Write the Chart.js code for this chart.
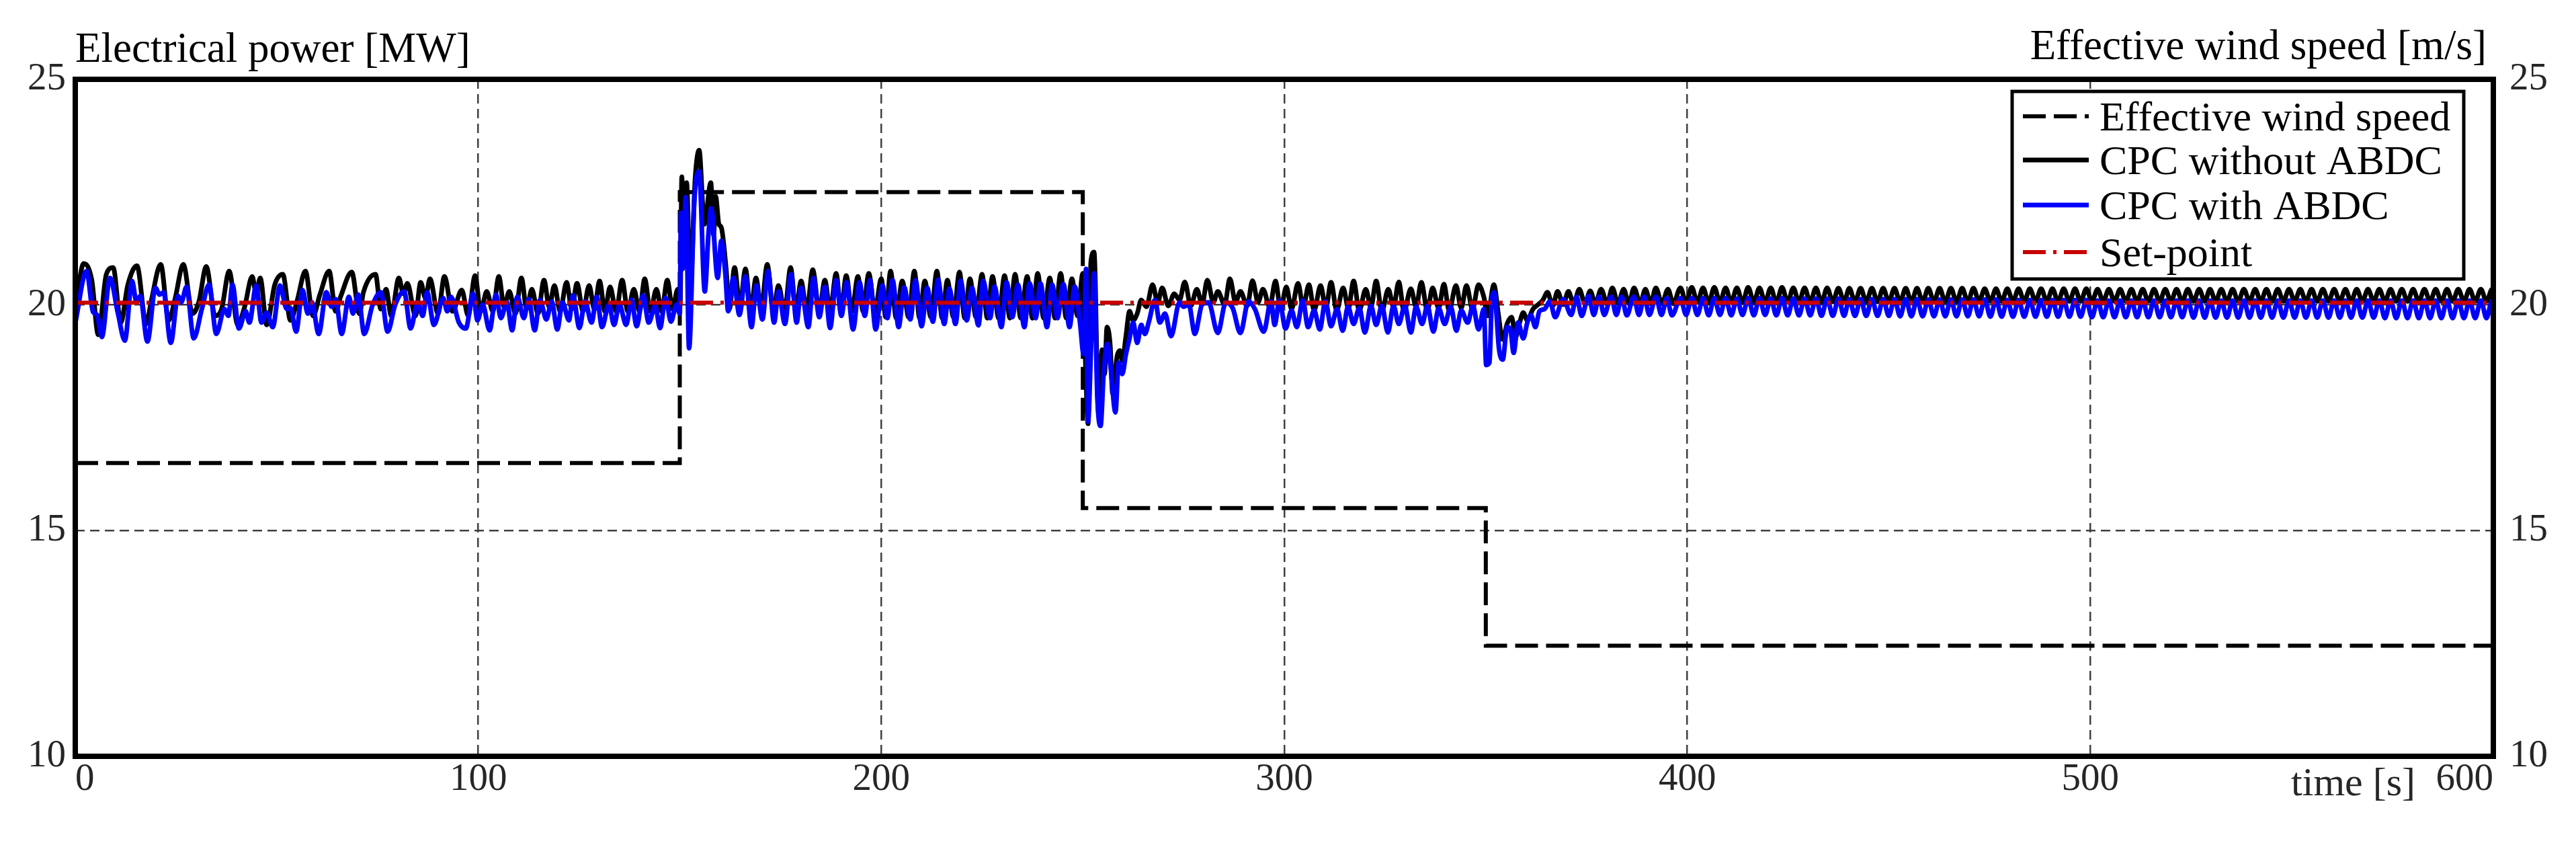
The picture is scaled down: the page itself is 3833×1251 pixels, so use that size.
<!DOCTYPE html>
<html lang="en">
<head>
<meta charset="UTF-8">
<title>CPC with and without ABDC</title>
<script src="https://cdn.jsdelivr.net/npm/chart.js"></script>
<style>
    * { margin: 0; padding: 0; }
    body { background: #ffffff; }
    .box { width: 3833px; height: 1251px; position: relative; }
</style>
</head>
<body>
<div class="box"><canvas id="grafico"></canvas></div>
<script>
// ticks
const timeTicks = [0, 100, 200, 300, 400, 500, 600];
const powerTicks = [10, 15, 20, 25];
const windTicks = [10, 15, 20, 25];

// effective wind speed, value changes at these times
const windTimes = [0, 150, 250, 350, 600];
const windSpeeds = [16.5, 22.5, 15.5, 12.45, 12.45];

// set-point
const setPointTimes = [0, 600];
const setPointValues = [20.05, 20.05];

// electrical power [time s, MW], read peak by peak
const cpcWithoutAbdc = [
    [0,19.9],[2.1,20.92],[4.1,20.55],[5.7,19.34],[7.7,20.68],[9.4,20.83],[11.3,19.61],[13.0,20.43],[15.3,20.87],[17.6,19.58],
    [18.9,20.11],[21.2,20.90],[23.2,19.66],[24.8,20.15],[26.8,20.90],[29.1,19.81],[30.7,20.08],[32.5,20.85],[34.7,19.76],[36.3,19.91],
    [38.2,20.75],[40.3,19.56],[42.0,19.95],[43.9,20.63],[44.9,20.25],[45.9,20.60],[47.5,19.56],[49.5,20.45],[51.5,20.68],[53.4,19.66],
    [55.1,20.11],[57.1,20.75],[59.0,19.76],[60.7,20.23],[63.0,20.75],[64.6,19.86],[65.9,20.20],[68.6,20.73],[70.5,19.81],[71.5,20.28],
    [74.5,20.68],[75.8,19.91],[77.1,20.35],[78.4,19.76],[80.3,20.60],[81.4,20.25],[82.4,20.48],[84.4,19.76],[85.7,20.50],[86.9,20.15],
    [88.0,20.58],[90.0,19.81],[91.6,20.63],[93.6,19.86],[95.9,20.33],[97.5,19.76],[99.2,20.65],
    [100.6,19.86],[102.1,20.30],[103.6,19.86],[105.1,20.63],[106.4,19.96],[107.7,20.30],[109.2,19.81],[110.7,20.60],[112.0,19.91],[113.3,20.35],
    [114.8,19.81],[116.3,20.55],[117.6,19.96],[118.9,20.43],[120.3,19.86],[121.9,20.50],[123.2,19.91],[124.5,20.48],[126.0,19.86],[127.5,20.43],
    [128.8,19.91],[130.1,20.53],[131.4,19.86],[132.7,20.40],[134.2,19.86],[135.7,20.55],[137.1,19.86],[138.6,20.35],[140.0,19.86],[141.3,20.58],
    [142.7,19.86],[144.2,20.35],[145.5,19.86],[146.9,20.55],[148.2,19.91],[149.5,20.35],[150.1,20.0],[150.5,22.84],[151.1,21.20],[151.7,22.71],
    [152.6,20.35],[153.8,22.79],[154.8,23.43],[156.1,21.79],[157.7,22.71],[158.4,21.55],[158.9,22.41],[159.7,21.79],[160.3,21.72],[161.5,20.80],
    [162.3,19.91],[163.6,20.83],[164.9,19.96],[166.3,20.80],[167.6,19.86],[168.9,20.60],[170.2,19.91],[171.7,20.90],[173.2,19.86],[174.5,20.43],
    [176.0,19.86],[177.5,20.83],[178.8,19.86],[180.1,20.53],[181.5,19.86],[183.0,20.78],[184.6,19.86],[186.0,20.55],[187.3,19.86],[188.8,20.70],
    [190.0,19.86],[191.3,20.65],[192.7,19.86],[194.2,20.63],[195.5,19.86],[196.9,20.70],[198.4,19.86],
    [200.0,20.58],[201.1,19.73],[202.3,20.75],[203.7,19.71],[205.2,20.53],[206.8,19.73],[208.2,20.75],[209.5,19.71],[210.8,20.53],[212.3,19.73],
    [213.8,20.75],[215.1,19.71],[216.4,20.55],[217.9,19.73],[219.4,20.73],[220.7,19.71],[222.0,20.58],[223.5,19.73],[225.0,20.68],[226.3,19.71],
    [227.6,20.63],[229.1,19.71],[230.6,20.65],[231.9,19.71],[233.2,20.68],[234.6,19.71],[236.2,20.63],[237.5,19.71],[238.8,20.70],[240.3,19.71],
    [241.8,20.60],[243.1,19.71],[244.5,20.70],[245.9,19.71],[247.3,20.58],[248.7,19.76],[250.0,20.70],[250.6,18.91],[251.3,17.37],[252.0,20.95],
    [252.8,21.17],[253.9,17.62],[254.8,19.01],[255.4,18.47],[256.0,19.51],[256.8,19.11],[257.4,18.04],[258.5,18.86],[259.2,18.99],[259.8,18.76],
    [260.7,19.31],[261.6,19.86],[262.5,19.66],[263.5,19.81],[264.5,20.11],[265.8,19.96],[267.3,20.45],[268.6,20.06],[269.7,20.38],[271.2,19.98],
    [272.7,20.25],[274.0,20.11],[275.3,20.51],[276.8,19.98],[278.3,20.35],[279.6,20.01],[280.9,20.55],[282.4,20.06],[283.5,20.30],[285.2,20.01],
    [286.5,20.58],[287.9,20.06],[289.1,20.30],[290.8,19.98],[292.1,20.54],[293.5,20.06],[294.7,20.35],[296.4,19.96],[297.8,20.53],
    [299.1,19.91],[300.5,20.40],[301.8,19.91],[303.4,20.48],[304.7,19.96],[306.1,20.45],[307.4,19.88],[309.0,20.43],[310.3,19.93],[311.6,20.50],
    [313.0,19.88],[314.6,20.38],[315.9,19.93],[317.2,20.53],[318.6,19.88],[320.2,20.35],[321.5,19.96],[322.8,20.53],[324.2,19.86],[325.8,20.35],
    [327.1,19.96],[328.4,20.51],[329.7,19.86],[331.4,20.36],[332.7,19.96],[334.0,20.50],[335.5,19.88],[336.8,20.38],[338.3,19.93],[339.6,20.46],
    [340.9,19.88],[342.6,20.43],[343.9,19.93],[345.2,20.43],[346.7,19.91],[348.2,20.45],[349.5,20.18],[350.5,19.76],[352.0,20.45],[353.1,19.81],
    [354.1,19.24],[355.4,19.61],[356.4,19.73],[357.4,19.29],[358.4,19.61],[359.3,19.83],[360.3,19.66],[361.7,19.91],[363.0,20.01],[364.1,20.10],
    [365.3,20.28],[366.6,19.98],[367.8,20.30],[369.2,20.01],[370.5,20.30],[371.8,20.02],[373.2,20.35],[374.6,20.03],[375.9,20.31],[377.2,20.03],
    [378.6,20.35],[380.1,20.03],[381.4,20.38],[382.8,20.03],[384.2,20.35],[385.5,20.03],[386.8,20.38],[388.3,20.03],[389.6,20.35],[390.9,20.03],
    [392.2,20.38],[393.7,20.03],[395.2,20.35],[396.5,20.03],
    [398.3,20.38],[399.7,20.05],[401.1,20.39],[402.5,20.06],[403.9,20.38],[405.3,20.05],[406.7,20.39],[408.1,20.06],[409.5,20.38],[410.9,20.06],
    [412.3,20.38],[413.7,20.05],[415.1,20.39],[416.5,20.06],[417.9,20.38],[419.3,20.06],[420.7,20.38],[422.1,20.05],[423.5,20.39],[424.9,20.06],
    [426.3,20.38],[427.7,20.06],[429.1,20.38],[430.5,20.06],[431.9,20.38],[433.3,20.06],[434.7,20.38],[436.1,20.07],[437.5,20.37],[438.9,20.07],
    [440.2,20.37],[441.6,20.07],[443.0,20.37],[444.4,20.07],[445.8,20.37],[447.2,20.07],[448.6,20.37],[450.0,20.07],[451.4,20.37],[452.8,20.07],
    [454.2,20.37],[455.6,20.07],[457.0,20.37],[458.4,20.07],[459.8,20.37],[461.2,20.07],[462.6,20.37],[464.0,20.07],[465.4,20.37],[466.8,20.07],
    [468.2,20.37],[469.6,20.07],[471.0,20.37],[472.4,20.08],[473.8,20.36],[475.2,20.08],[476.6,20.36],[478.0,20.08],[479.4,20.36],[480.8,20.08],
    [482.2,20.36],[483.6,20.08],[485.0,20.36],[486.4,20.08],[487.8,20.36],[489.2,20.08],[490.6,20.36],[492.0,20.08],[493.4,20.36],[494.8,20.08],
    [496.2,20.36],[497.6,20.08],[499.0,20.36],
    [500.4,20.08],[501.8,20.35],[503.2,20.08],[504.6,20.35],[506.0,20.08],[507.4,20.35],[508.8,20.08],[510.2,20.35],[511.6,20.08],[513.0,20.35],
    [514.4,20.08],[515.8,20.35],[517.2,20.08],[518.6,20.35],[520.0,20.08],[521.4,20.35],[522.8,20.08],[524.2,20.35],[525.6,20.08],[527.0,20.35],
    [528.4,20.08],[529.7,20.35],[531.1,20.08],[532.5,20.35],[533.9,20.08],[535.3,20.35],[536.7,20.08],[538.1,20.35],[539.5,20.08],[540.9,20.35],
    [542.3,20.08],[543.7,20.35],[545.1,20.08],[546.5,20.35],[547.9,20.08],[549.3,20.35],[550.7,20.08],[552.1,20.35],[553.5,20.08],[554.9,20.35],
    [556.3,20.08],[557.7,20.35],[559.1,20.08],[560.5,20.35],[561.9,20.08],[563.3,20.35],[564.7,20.08],[566.1,20.35],[567.5,20.08],[568.9,20.35],
    [570.3,20.08],[571.7,20.35],[573.1,20.08],[574.5,20.35],[575.9,20.08],[577.3,20.35],[578.7,20.08],[580.1,20.35],[581.5,20.08],[582.9,20.35],
    [584.3,20.08],[585.7,20.35],[587.1,20.08],[588.5,20.35],[589.9,20.08],[591.3,20.35],[592.7,20.08],[594.1,20.35],[595.5,20.08],[596.9,20.35],
    [598.3,20.08],[599.7,20.35],[600,20.33]
];

const cpcWithAbdc = [
    [0,19.6],[2.8,20.75],[4.4,19.85],[5.4,19.78],[6.6,19.29],[8.6,20.60],[10.6,19.81],[12.3,19.21],[14.1,20.53],[15.2,20.06],
    [16.1,20.20],[17.9,19.19],[19.9,20.38],[20.9,20.23],[21.9,20.28],[23.7,19.16],[25.5,20.20],[26.3,20.06],[27.6,20.40],[29.4,19.26],
    [31.4,19.91],[33.2,20.45],[35.0,19.36],[37.0,19.91],[38.0,19.76],[39.0,20.45],[40.6,19.48],[42.3,19.86],[43.2,19.61],[44.9,20.43],
    [46.2,19.61],[47.5,19.83],[49.0,19.51],[50.8,20.43],[52.5,19.91],[53.4,19.93],[54.8,19.41],[56.4,20.33],[57.7,19.81],[58.7,20.06],
    [60.4,19.36],[62.3,20.28],[63.6,19.96],[64.6,20.13],[66.1,19.36],[67.9,20.18],[68.9,19.81],[70.2,20.23],[71.7,19.36],[73.8,20.01],
    [75.8,20.28],[77.5,19.41],[79.4,20.01],[81.6,20.30],[83.2,19.48],[85.0,20.06],[86.2,19.76],[87.3,20.28],[89.0,19.56],[91.3,20.15],
    [92.3,19.86],[93.2,20.18],[95.2,19.61],[96.9,19.48],[98.7,20.25],
    [99.8,19.66],[101.1,20.01],[102.8,19.44],[104.4,20.23],[105.6,19.71],[107.1,20.06],[108.4,19.44],[109.7,20.18],[111.3,19.71],[112.5,20.13],
    [114.0,19.44],[115.3,20.11],[116.9,19.68],[118.2,20.08],[119.6,19.46],[120.9,20.06],[122.5,19.66],[123.5,20.21],[125.1,19.49],[126.5,20.08],
    [128.1,19.61],[129.4,20.18],[130.7,19.51],[132.4,20.01],[133.7,19.56],[135.0,20.01],[136.7,19.56],[138.0,20.11],[139.3,19.53],[140.9,20.21],
    [142.3,19.61],[143.9,19.98],[145.1,19.49],[146.5,20.16],[147.8,19.63],[149.2,20.01],[150.0,19.81],[150.3,22.04],[150.7,20.80],[151.5,22.39],
    [152.3,19.04],[153.6,22.29],[154.8,22.96],[156.2,20.30],[157.1,21.55],[157.8,22.14],[159.4,20.60],[160.3,21.42],[161.3,20.70],[162.0,19.86],
    [163.3,20.60],[164.8,19.78],[166.3,20.63],[167.8,19.51],[169.0,20.43],[170.5,19.68],[171.9,20.75],[173.4,19.61],[174.5,20.30],[176.1,19.58],
    [177.6,20.68],[179.0,19.61],[180.1,20.38],[181.9,19.51],[183.2,20.60],[184.6,19.73],[186.0,20.40],[187.3,19.49],[188.8,20.55],[190.1,19.76],
    [191.4,20.50],[193.0,19.46],[194.6,20.50],[195.9,19.76],[197.2,20.55],[198.6,19.46],
    [200.3,20.43],[201.5,19.71],[202.8,20.55],[204.3,19.51],[205.7,20.39],[207.2,19.68],[208.5,20.55],[210.0,19.53],[211.4,20.38],[212.8,19.63],
    [214.1,20.56],[215.6,19.58],[216.9,20.36],[218.4,19.58],[219.7,20.54],[221.2,19.66],[222.5,20.38],[224.1,19.55],[225.3,20.53],[227.0,19.71],
    [228.1,20.41],[229.8,19.51],[231.1,20.50],[232.5,19.73],[233.9,20.45],[235.5,19.51],[236.8,20.48],[238.3,19.71],[239.5,20.48],[241.1,19.51],
    [242.4,20.45],[243.7,19.71],[245.2,20.46],[246.7,19.51],[248.0,20.41],[249.3,19.61],[250.2,18.91],[250.8,20.80],[251.3,17.42],[252.1,19.21],
    [252.8,20.70],[253.6,17.97],[254.4,17.32],[255.2,18.52],[256.1,19.14],[256.9,18.62],[258.1,17.62],[258.9,18.72],[259.8,18.47],[260.7,18.91],
    [261.6,19.26],[262.5,19.61],[263.5,19.16],[264.5,19.56],[265.4,19.36],[266.4,19.63],[267.9,20.11],[269.1,19.61],[270.4,19.81],[271.9,19.31],
    [274.0,20.06],[275.0,19.96],[276.3,20.01],[277.8,19.36],[279.6,20.01],[281.2,20.06],[283.5,19.38],[285.5,20.06],[287.2,19.93],[289.1,19.38],
    [291.1,20.08],[292.7,19.91],[294.9,19.41],[296.7,20.08],
    [297.6,19.56],[298.8,20.10],[300.3,19.48],[301.8,19.88],[303.1,19.51],[304.6,20.10],[305.9,19.51],[307.4,19.88],[308.8,19.46],[310.2,20.08],
    [311.6,19.53],[313.1,19.91],[314.5,19.43],[315.8,19.96],[317.2,19.58],[318.6,19.93],[320.0,19.39],[321.5,19.98],[322.8,19.56],[324.2,19.98],
    [325.7,19.39],[327.1,19.98],[328.4,19.58],[329.9,19.98],[331.4,19.39],[332.7,19.96],[334.2,19.58],[335.5,19.98],[337.0,19.41],[338.3,19.93],
    [339.8,19.58],[341.3,19.96],[342.7,19.43],[343.9,19.88],[345.5,19.61],[346.8,19.98],[348.2,19.46],[349.5,19.91],[350.1,18.67],[350.9,18.72],
    [351.5,20.10],[352.1,20.28],[353.3,19.01],[354.2,18.79],[355.3,19.51],[356.1,19.46],[356.9,18.94],[358.0,19.61],[359.3,19.26],[360.3,19.61],
    [361.2,19.78],[362.3,19.51],[363.3,19.86],[364.6,19.91],[365.9,20.08],[367.2,19.73],[369.2,20.13],[371.2,19.78],[372.5,20.18],[373.8,19.76],
    [375.5,20.20],[376.8,19.78],[378.1,20.18],[379.4,19.78],[381.1,20.18],[382.4,19.78],[383.7,20.18],[385.0,19.77],[386.7,20.18],[388.0,19.78],
    [389.3,20.18],[390.6,19.78],[392.2,20.18],[393.6,19.78],[394.9,20.15],[396.2,19.77],
    [398.3,20.15],[399.7,19.78],[401.1,20.15],[402.5,19.78],[403.9,20.15],[405.3,19.77],[406.7,20.15],[408.1,19.78],[409.5,20.15],[410.9,19.77],
    [412.3,20.14],[413.7,19.78],[415.1,20.15],[416.5,19.77],[417.9,20.15],[419.3,19.78],[420.7,20.14],[422.1,19.77],[423.5,20.15],[424.9,19.77],
    [426.3,20.14],[427.7,19.77],[429.1,20.14],[430.5,19.77],[431.9,20.14],[433.3,19.76],[434.7,20.14],[436.1,19.76],[437.5,20.14],[438.9,19.76],
    [440.2,20.13],[441.6,19.76],[443.0,20.13],[444.4,19.76],[445.8,20.13],[447.2,19.76],[448.6,20.13],[450.0,19.76],[451.4,20.13],[452.8,19.75],
    [454.2,20.13],[455.6,19.75],[457.0,20.13],[458.4,19.75],[459.8,20.12],[461.2,19.75],[462.6,20.12],[464.0,19.75],[465.4,20.12],[466.8,19.75],
    [468.2,20.12],[469.6,19.75],[471.0,20.12],[472.4,19.75],[473.8,20.12],[475.2,19.74],[476.6,20.12],[478.0,19.74],[479.4,20.11],[480.8,19.74],
    [482.2,20.11],[483.6,19.74],[485.0,20.11],[486.4,19.74],[487.8,20.11],[489.2,19.74],[490.6,20.11],[492.0,19.74],[493.4,20.11],[494.8,19.74],
    [496.2,20.11],[497.6,19.74],[499.0,20.11],
    [500.4,19.73],[501.8,20.10],[503.2,19.73],[504.6,20.10],[506.0,19.73],[507.4,20.10],[508.8,19.73],[510.2,20.10],[511.6,19.73],[513.0,20.10],
    [514.4,19.73],[515.8,20.10],[517.2,19.73],[518.6,20.10],[520.0,19.73],[521.4,20.10],[522.8,19.73],[524.2,20.10],[525.6,19.72],[527.0,20.10],
    [528.4,19.72],[529.7,20.10],[531.1,19.72],[532.5,20.10],[533.9,19.72],[535.3,20.10],[536.7,19.72],[538.1,20.10],[539.5,19.72],[540.9,20.10],
    [542.3,19.72],[543.7,20.10],[545.1,19.72],[546.5,20.10],[547.9,19.72],[549.3,20.10],[550.7,19.72],[552.1,20.10],[553.5,19.72],[554.9,20.10],
    [556.3,19.72],[557.7,20.10],[559.1,19.72],[560.5,20.10],[561.9,19.72],[563.3,20.10],[564.7,19.72],[566.1,20.10],[567.5,19.72],[568.9,20.10],
    [570.3,19.72],[571.7,20.10],[573.1,19.71],[574.5,20.10],[575.9,19.71],[577.3,20.10],[578.7,19.71],[580.1,20.10],[581.5,19.71],[582.9,20.10],
    [584.3,19.71],[585.7,20.10],[587.1,19.71],[588.5,20.10],[589.9,19.71],[591.3,20.10],[592.7,19.71],[594.1,20.10],[595.5,19.71],[596.9,20.10],
    [598.3,19.71],[599.7,20.10],[600,20.08]
];

const fonte = 'Liberation Serif, Times New Roman, serif';

const toPoints = (times, values) => times.map((t, i) => ({ x: t, y: values[i] }));
const pairsToPoints = (pairs) => pairs.map(p => ({ x: p[0], y: p[1] }));

// frame, axis titles and framed legend
const moldura = {
    id: 'moldura',
    afterDatasetsDraw(chart) {
        const { ctx, chartArea: a } = chart;
        ctx.save();
        ctx.strokeStyle = '#000';
        ctx.lineWidth = 8;
        ctx.strokeRect(a.left, a.top, a.right - a.left, a.bottom - a.top);

        // legend, same order as the datasets
        const bx = a.right - 716, by = a.top + 18, bw = 672, bh = 279;
        ctx.fillStyle = '#fff';
        ctx.fillRect(bx, by, bw, bh);
        ctx.lineWidth = 5;
        ctx.strokeRect(bx, by, bw, bh);
        const rows = [55, 120, 187, 257];
        ctx.font = '62px ' + fonte;
        ctx.textAlign = 'left';
        ctx.textBaseline = 'alphabetic';
        chart.data.datasets.forEach((ds, i) => {
            const y = a.top + rows[i];
            ctx.beginPath();
            ctx.setLineDash(ds.borderDash || []);
            ctx.strokeStyle = ds.borderColor;
            ctx.lineWidth = ds.borderWidth;
            ctx.moveTo(bx + 16, y);
            ctx.lineTo(bx + 114, y);
            ctx.stroke();
            ctx.setLineDash([]);
            ctx.fillStyle = '#000';
            ctx.fillText(ds.label, bx + 130, y + 21);
        });
        ctx.restore();
    },
    afterDraw(chart) {
        const { ctx, chartArea: a } = chart;
        ctx.save();
        ctx.fillStyle = '#000';
        ctx.font = '63px ' + fonte;
        ctx.textBaseline = 'alphabetic';
        ctx.textAlign = 'left';
        ctx.fillText('Electrical power [MW]', a.left, 92);
        ctx.textAlign = 'right';
        ctx.fillText('Effective wind speed [m/s]', a.right - 10, 88);
        ctx.fillStyle = '#262626';
        ctx.font = '60px ' + fonte;
        ctx.fillText('time [s]', a.right - 116, 1183);
        ctx.restore();
    }
};

const ctx = document.getElementById('grafico').getContext('2d');
const grafico = new Chart(ctx, {
    type: 'line',
    data: {
        datasets: [
            {
                label: 'Effective wind speed',
                data: toPoints(windTimes, windSpeeds),
                yAxisID: 'yVento',
                borderColor: '#000000',
                borderWidth: 6,
                borderDash: [34, 12],
                stepped: true,
                order: 4
            },
            {
                label: 'CPC without ABDC',
                data: pairsToPoints(cpcWithoutAbdc),
                yAxisID: 'y',
                borderColor: '#000000',
                borderWidth: 7,
                cubicInterpolationMode: 'monotone',
                borderJoinStyle: 'round',
                order: 3
            },
            {
                label: 'CPC with ABDC',
                data: pairsToPoints(cpcWithAbdc),
                yAxisID: 'y',
                borderColor: '#0000ff',
                borderWidth: 7,
                cubicInterpolationMode: 'monotone',
                borderJoinStyle: 'round',
                order: 2
            },
            {
                label: 'Set-point',
                data: toPoints(setPointTimes, setPointValues),
                yAxisID: 'y',
                borderColor: '#c80000',
                borderWidth: 6,
                borderDash: [34, 11, 5, 11],
                order: 1
            }
        ]
    },
    options: {
        responsive: true,
        maintainAspectRatio: false,
        animation: false,
        devicePixelRatio: 1,
        elements: { point: { radius: 0 } },
        layout: { padding: { top: 118, left: 0, right: 0, bottom: 0 } },
        plugins: { legend: { display: false }, tooltip: { enabled: false } },
        scales: {
            x: {
                type: 'linear',
                min: 0,
                max: 600,
                afterBuildTicks: s => { s.ticks = timeTicks.map(v => ({ value: v })); },
                afterFit: s => { s.height = 126; },
                grid: { color: '#404040', lineWidth: 2.5, drawTicks: false },
                border: { display: false, dash: [14, 8] },
                ticks: { padding: 1, align: 'inner', color: '#262626', font: { family: fonte, size: 57 }, maxRotation: 0 }
            },
            y: {
                position: 'left',
                min: 10,
                max: 25,
                afterBuildTicks: s => { s.ticks = powerTicks.map(v => ({ value: v })); },
                afterFit: s => { s.width = 112; },
                grid: { color: '#404040', lineWidth: 2.5, drawTicks: false },
                border: { display: false, dash: [14, 8] },
                ticks: { padding: 14, color: '#262626', font: { family: fonte, size: 57 } }
            },
            yVento: {
                position: 'right',
                min: 10,
                max: 25,
                afterBuildTicks: s => { s.ticks = windTicks.map(v => ({ value: v })); },
                afterFit: s => { s.width = 123; },
                grid: { display: false, drawTicks: false },
                border: { display: false },
                ticks: { padding: 24, color: '#262626', font: { family: fonte, size: 57 } }
            }
        }
    },
    plugins: [moldura]
});
</script>
</body>
</html>
